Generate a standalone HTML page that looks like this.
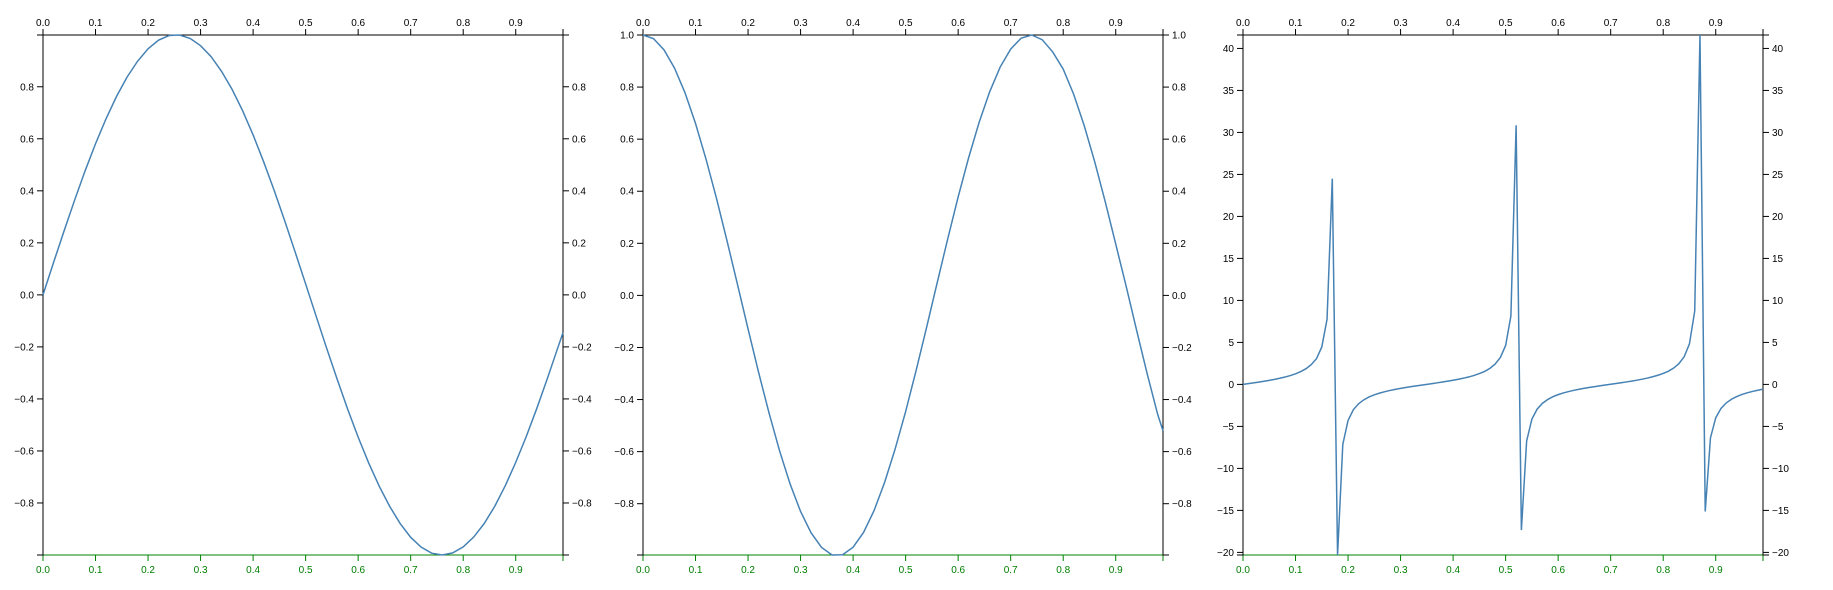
<!DOCTYPE html>
<html><head><meta charset="utf-8">
<style>
html,body{margin:0;padding:0;background:#fff;width:1833px;height:590px;overflow:hidden}
svg{display:block;font-family:"Liberation Sans",Arial,sans-serif;font-size:10px}
</style></head>
<body>
<svg id="chart" width="1833" height="590" xmlns="http://www.w3.org/2000/svg"></svg>
<script>
const sinValues = [0,0.124,0.245,0.363,0.476,0.581,0.677,0.763,0.837,0.898,0.946,0.979,0.997,0.999,0.986,0.958,0.916,0.859,0.790,0.708,0.615,0.512,0.402,0.286,0.165,0.042,-0.082,-0.205,-0.324,-0.439,-0.547,-0.646,-0.735,-0.813,-0.879,-0.932,-0.970,-0.993,-1.000,-0.992,-0.969,-0.931,-0.879,-0.813,-0.734,-0.644,-0.545,-0.437,-0.323,-0.204,-0.145];
const sinX = [0,0.02,0.04,0.06,0.08,0.10,0.12,0.14,0.16,0.18,0.20,0.22,0.24,0.26,0.28,0.30,0.32,0.34,0.36,0.38,0.40,0.42,0.44,0.46,0.48,0.50,0.52,0.54,0.56,0.58,0.60,0.62,0.64,0.66,0.68,0.70,0.72,0.74,0.76,0.78,0.80,0.82,0.84,0.86,0.88,0.90,0.92,0.94,0.96,0.98,0.99];
const cosValues = [1,0.986,0.943,0.873,0.778,0.660,0.523,0.372,0.209,0.041,-0.129,-0.295,-0.452,-0.597,-0.724,-0.830,-0.912,-0.968,-0.997,-0.996,-0.967,-0.910,-0.826,-0.718,-0.590,-0.446,-0.288,-0.122,0.048,0.216,0.378,0.529,0.665,0.782,0.877,0.946,0.988,1.000,0.982,0.935,0.869,0.772,0.652,0.513,0.360,0.197,0.034,-0.136,-0.302,-0.458,-0.52];
const cosX = sinX;
const tanValues = [0,0.090,0.182,0.277,0.376,0.483,0.599,0.729,0.877,1.050,1.260,1.528,1.871,2.360,3.078,4.455,7.750,24.50,-20.31,-7.14,-4.29,-3.025,-2.305,-1.836,-1.494,-1.237,-1.034,-0.864,-0.717,-0.588,-0.472,-0.367,-0.268,-0.173,-0.082,0.008,0.099,0.191,0.286,0.386,0.494,0.611,0.743,0.893,1.070,1.286,1.550,1.909,2.417,3.206,4.636,8.13,30.86,-17.34,-6.73,-4.13,-2.94,-2.254,-1.800,-1.468,-1.217,-1.017,-0.850,-0.704,-0.577,-0.462,-0.357,-0.259,-0.165,-0.073,0.017,0.107,0.199,0.295,0.396,0.504,0.623,0.757,0.908,1.088,1.307,1.579,1.947,2.477,3.303,4.833,8.73,41.6,-15.13,-6.36,-3.98,-2.86,-2.20,-1.765,-1.446,-1.198,-1.002,-0.837,-0.693,-0.567];
const tanX = tanValues.map((_, i) => i / 100);
const xTicks = [0,0.1,0.2,0.3,0.4,0.5,0.6,0.7,0.8,0.9];
const yTicksTrig = [-0.8,-0.6,-0.4,-0.2,0,0.2,0.4,0.6,0.8,1.0];
const yTicksTan = [-20,-15,-10,-5,0,5,10,15,20,25,30,35,40];

const NS = "http://www.w3.org/2000/svg";
const svg = document.getElementById("chart");
function mk(tag, attrs, parent) {
  const e = document.createElementNS(NS, tag);
  for (const k in attrs) e.setAttribute(k, attrs[k]);
  parent.appendChild(e);
  return e;
}
function fmt(v, dec) {
  const s = Math.abs(v).toFixed(dec);
  return (v < -1e-9 ? "\u2212" : "") + s;
}
function panel(idx, xs, ys, yTicks, dec) {
  const L = 43 + idx * 600, T = 35, W = 520, H = 520, R = L + W, B = T + H;
  const xMax = 0.99;
  const yMin = Math.min(...ys), yMax = Math.max(...ys);
  const sx = v => L + v / xMax * W;
  const sy = v => B - (v - yMin) / (yMax - yMin) * H;
  const g = mk("g", {}, svg);
  
  
  // top axis
  const top = mk("g", {}, g);
  
  
  mk("path", {d:`M${L},${T-6}V${T}H${R}V${T-6}`, stroke:"#000", fill:"none"}, top);
  // bottom axis
  const bot = mk("g", {}, g);
  
  
  mk("path", {d:`M${L},${B+6}V${B}H${R}V${B+6}`, stroke:"green", fill:"none"}, bot);
  xTicks.forEach(t => {
    const x = sx(t);
    mk("line", {x1:x, x2:x, y1:T, y2:T-6, stroke:"#000"}, top);
    const a = mk("text", {x:x, y:T-9, "text-anchor":"middle", fill:"#000"}, top);
    a.textContent = t.toFixed(1);
    
    
    mk("line", {x1:x, x2:x, y1:B, y2:B+6, stroke:"green"}, bot);
    const b = mk("text", {x:x, y:B+18, "text-anchor":"middle", fill:"green"}, bot);
    b.textContent = t.toFixed(1);
    
    
  });
  // y axes
  const la = mk("g", {}, g);
  
  
  mk("path", {d:`M${L-6},${T}H${L}V${B}H${L-6}`, stroke:"#000", fill:"none"}, la);
  const ra = mk("g", {}, g);
  
  
  mk("path", {d:`M${R+6},${T}H${R}V${B}H${R+6}`, stroke:"#000", fill:"none"}, ra);
  yTicks.forEach(t => {
    if (t < yMin - 1e-9 || t > yMax + 1e-9) return;
    const y = sy(t);
    mk("line", {x1:L-6, x2:L, y1:y, y2:y, stroke:"#000"}, la);
    const a = mk("text", {x:L-9, y:y+3.5, "text-anchor":"end", fill:"#000"}, la);
    a.textContent = fmt(t, dec);
    
    
    mk("line", {x1:R, x2:R+6, y1:y, y2:y, stroke:"#000"}, ra);
    const b = mk("text", {x:R+9, y:y+3.5, "text-anchor":"start", fill:"#000"}, ra);
    b.textContent = fmt(t, dec);
    
    
  });
  const d = xs.map((x, i) => (i ? "L" : "M") + sx(x).toFixed(2) + "," + sy(ys[i]).toFixed(2)).join("");
  const line = mk("path", {d:d, stroke:"steelblue", "stroke-width":1.5, fill:"none"}, g);
  
  
}
panel(0, sinX, sinValues, yTicksTrig, 1);
panel(1, cosX, cosValues, yTicksTrig, 1);
panel(2, tanX, tanValues, yTicksTan, 0);
</script>
</body></html>
